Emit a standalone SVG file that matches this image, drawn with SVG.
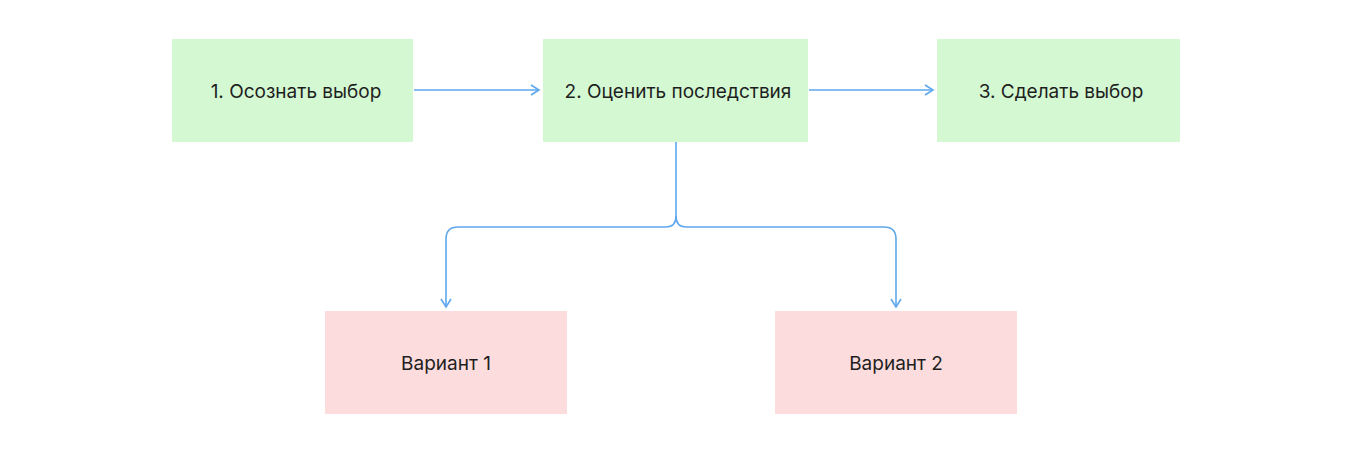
<svg xmlns="http://www.w3.org/2000/svg" width="1352" height="453" viewBox="0 0 1352 453">
<style>
.g{fill:#d4f8d2}.p{fill:#fcdcdc}
.t{font-family:Inter,"Noto Sans",sans-serif;font-size:19px;fill:#1e1e1e;text-anchor:middle;dominant-baseline:central}
.c{fill:none;stroke:#5ea8ec;stroke-width:1.6}
</style>
<defs><marker id="a" markerWidth="12" markerHeight="12" refX="10" refY="6" orient="auto" markerUnits="userSpaceOnUse"><path d="M2,1 L10,6 L2,11" fill="none" stroke="#5ea8ec" stroke-width="1.6"/></marker></defs>
<rect width="1352" height="453" fill="#fff"/>
<g id="n1"><rect class="g" x="172" y="39" width="241" height="103"/><text class="t" x="296" y="91">1. Осознать выбор</text></g>
<g id="n2"><rect class="g" x="543" y="39" width="265" height="103"/><text class="t" x="678" y="91">2. Оценить последствия</text></g>
<g id="n3"><rect class="g" x="937" y="39" width="243" height="103"/><text class="t" x="1061" y="91">3. Сделать выбор</text></g>
<g id="v1"><rect class="p" x="325" y="311" width="242" height="103"/><text class="t" x="446" y="363">Вариант 1</text></g>
<g id="v2"><rect class="p" x="775" y="311" width="242" height="103"/><text class="t" x="896" y="363">Вариант 2</text></g>
<g id="connectors">
<path class="c" d="M414,90 H539" marker-end="url(#a)"/>
<path class="c" d="M809,90 H933" marker-end="url(#a)"/>
<path class="c" d="M676,142 V216 Q676,227 666,227 H458 Q446,227 446,239 V307" marker-end="url(#a)"/>
<path class="c" d="M676,216 Q676,227 686,227 H884 Q896,227 896,239 V307" marker-end="url(#a)"/>
</g>
</svg>
